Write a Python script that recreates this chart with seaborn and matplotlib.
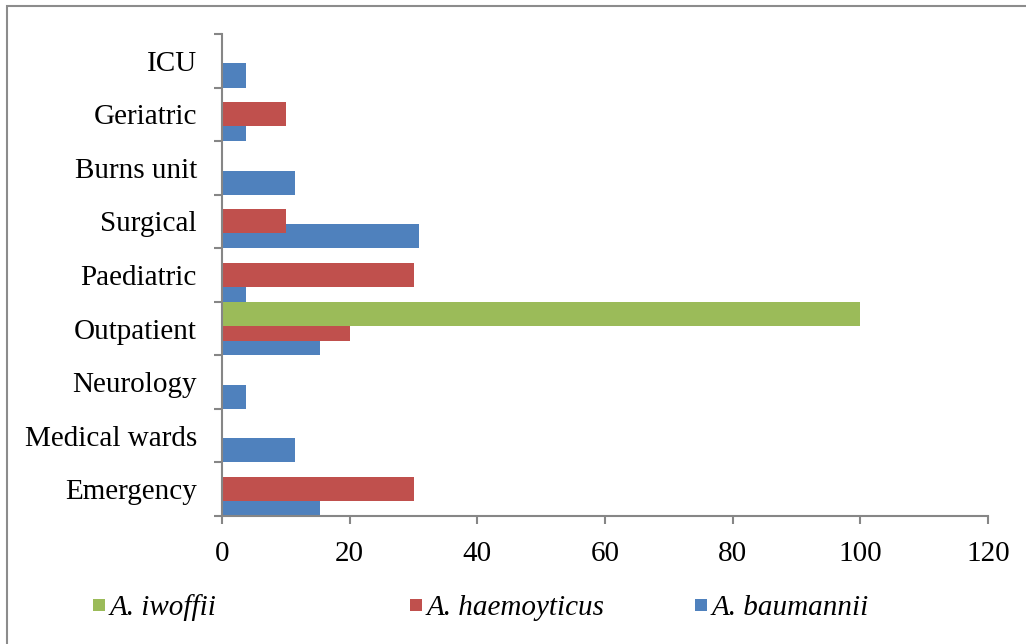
import numpy as np
import pandas as pd
import matplotlib
matplotlib.use("Agg")
import matplotlib.pyplot as plt
from matplotlib.patches import Rectangle
from matplotlib.lines import Line2D
import seaborn as sns

# Wards, listed from the bottom of the chart to the top
wards = ["Emergency", "Medical wards", "Neurology", "Outpatient", "Paediatric",
         "Surgical", "Burns unit", "Geriatric", "ICU"]

# Percentage of isolates per ward for each species
baumannii = [15.4, 11.5, 3.8, 15.4, 3.8, 30.8, 11.5, 3.8, 3.8]
haemoyticus = [30, 0, 0, 20, 30, 10, 0, 10, 0]
iwoffii = [0, 0, 0, 100, 0, 0, 0, 0, 0]

species = ["A. baumannii", "A. haemoyticus", "A. iwoffii"]
colors = {"A. baumannii": "#4F81BD", "A. haemoyticus": "#C0504D", "A. iwoffii": "#9BBB59"}
xticks = [0, 20, 40, 60, 80, 100, 120]

sns.set_theme(style="white")
plt.rcParams["font.family"] = ["Liberation Serif", "DejaVu Serif"]
plt.rcParams["font.size"] = 21
plt.rcParams["text.color"] = "black"
plt.rcParams["xtick.labelcolor"] = "black"
plt.rcParams["ytick.labelcolor"] = "black"

rows = []
for name, vals in zip(species, [baumannii, haemoyticus, iwoffii]):
    for i, (w, v) in enumerate(zip(wards, vals)):
        rows.append({"ward": w, "idx": i, "species": name, "value": v})
df = pd.DataFrame(rows)

fig = plt.figure(figsize=(10.26, 6.44), dpi=100)
W, H = 1026, 644
ax = fig.add_axes([222 / W, 1 - 516 / H, (988 - 222) / W, (516 - 34) / H])

# overlapping bars: each series is shifted within its ward band
bar_h = 0.45
step = 0.275
offsets = {"A. baumannii": -step, "A. haemoyticus": 0.0, "A. iwoffii": step}
for name in species:
    sub = df[df["species"] == name].copy()
    sub["pos"] = sub["idx"] + offsets[name]
    sns.barplot(data=sub, x="value", y="pos", orient="h", native_scale=True,
                width=bar_h, color=colors[name], saturation=1, errorbar=None,
                linewidth=0, ax=ax)

ax.set_xlim(0, 120)
ax.set_ylim(-0.5, len(wards) - 0.5)
ax.set_xlabel("")
ax.set_ylabel("")

spine_c = "#868686"
for s in ["top", "right"]:
    ax.spines[s].set_visible(False)
for s in ["left", "bottom"]:
    ax.spines[s].set_color(spine_c)
    ax.spines[s].set_linewidth(1.5)

ax.set_xticks(xticks)
ax.set_xticklabels([str(t) for t in xticks])
ax.set_yticks(np.arange(-0.5, len(wards), 1.0))
ax.set_yticklabels([])
ax.set_yticks(np.arange(len(wards)), minor=True)
ax.set_yticklabels(wards, minor=True)
ax.tick_params(axis="x", which="major", direction="out", length=6, width=1.5,
               color=spine_c, pad=12, labelsize=21, labelcolor="black", bottom=True)
ax.tick_params(axis="y", which="major", direction="out", length=6, width=1.5,
               color=spine_c, left=True)
ax.tick_params(axis="y", which="minor", length=0, pad=18, labelsize=21,
               labelcolor="black", left=True)

# legend entries, one per species, placed along the bottom
legend_order = ["A. iwoffii", "A. haemoyticus", "A. baumannii"]
legend_x = [92, 409, 694]
for name, lx in zip(legend_order, legend_x):
    h = Line2D([], [], marker="s", linestyle="none", markersize=8.5,
               markerfacecolor=colors[name], markeredgewidth=0)
    fig.legend([h], [name], loc="center left", bbox_to_anchor=(lx / W, 1 - 608 / H),
               frameon=False, borderpad=0, borderaxespad=0, handlelength=0.5,
               handletextpad=0.12, prop={"style": "italic", "size": 21},
               labelcolor="black")

# outer chart frame
fig.patches.append(Rectangle((7 / W, -0.1), 1.2, 1.1 - 6 / H, transform=fig.transFigure,
                             fill=False, edgecolor="#8c8c8c", linewidth=1.5))

fig.savefig("out.png", dpi=100, facecolor="white")
